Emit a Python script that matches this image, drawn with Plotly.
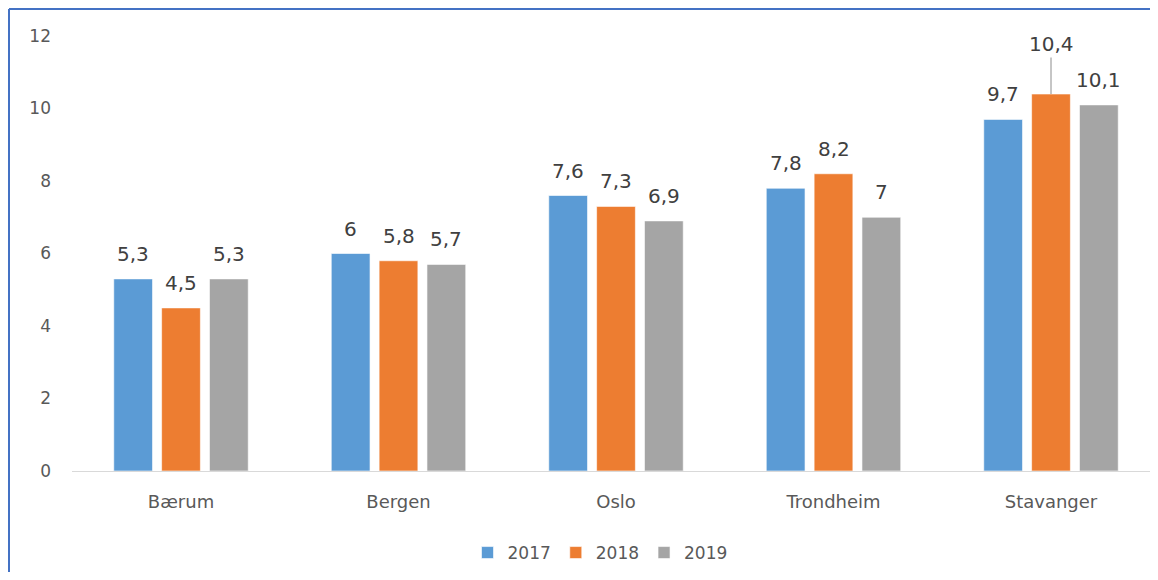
import plotly.graph_objects as go

categories = ["Bærum", "Bergen", "Oslo", "Trondheim", "Stavanger"]
years = ["2017", "2018", "2019"]
values_2017 = [5.3, 6.0, 7.6, 7.8, 9.7]
values_2018 = [4.5, 5.8, 7.3, 8.2, 10.4]
values_2019 = [5.3, 5.7, 6.9, 7.0, 10.1]
y_ticks = [0, 2, 4, 6, 8, 10, 12]

series = [values_2017, values_2018, values_2019]
colors = ["#5B9BD5", "#ED7D31", "#A5A5A5"]
callouts = {("Stavanger", "2018")}

# page is offset by the default 8px body margin
W, H = 1142, 564
ML, MR, MT, MB = 64, 0, 28, 101
plot_w = W - ML - MR
plot_h = H - MT - MB
cat_px = 217.5
x_start = -109.0 / cat_px
x_end = x_start + plot_w / cat_px
bargap = 0.34
groupgap = 0.19
slot_px = cat_px * (1 - bargap) / len(years)
FONT = "DejaVu Sans, sans-serif"

def fmt(v):
    return ("%g" % v).replace(".", ",")

fig = go.Figure()
for yr, vals, col in zip(years, series, colors):
    fig.add_trace(go.Bar(
        x=categories, y=vals, name=yr,
        marker=dict(color=col, line=dict(color="white", width=0.6)),
        hoverinfo="skip",
    ))

annotations = []
for i, (yr, vals) in enumerate(zip(years, series)):
    xshift = (i - (len(years) - 1) / 2) * slot_px
    for cat, v in zip(categories, vals):
        base = dict(x=cat, y=v, xref="x", yref="y", text=fmt(v), xshift=xshift,
                    font=dict(family=FONT, size=20, color="#404040"))
        if (cat, yr) in callouts:
            base.update(showarrow=True, arrowhead=0, arrowwidth=1,
                        arrowcolor="#8C8C8C", ax=0, ay=-50, standoff=0)
        else:
            base.update(showarrow=False, yanchor="bottom", yshift=11)
        annotations.append(base)

frame_x0 = (1 - ML) / plot_w
frame_y1 = (H - MB - 1) / plot_h
frame_style = dict(color="#4472C4", width=2)

fig.update_layout(
    width=W, height=H,
    margin=dict(l=ML, r=MR, t=MT, b=MB, pad=0),
    paper_bgcolor="white", plot_bgcolor="white",
    barmode="group", bargap=bargap, bargroupgap=groupgap,
    separators=", ",
    font=dict(family=FONT, size=17, color="#595959"),
    annotations=annotations,
    showlegend=True,
    legend=dict(
        orientation="h", x=(592 - ML) / plot_w, xanchor="center",
        y=-(545 - (H - MB)) / plot_h, yanchor="middle",
        font=dict(family=FONT, size=17, color="#595959"),
        itemwidth=30, tracegroupgap=0,
    ),
    shapes=[
        dict(type="line", xref="paper", yref="paper",
             x0=frame_x0, x1=1.0, y0=frame_y1, y1=frame_y1, line=frame_style),
        dict(type="line", xref="paper", yref="paper",
             x0=frame_x0, x1=frame_x0, y0=-0.3, y1=frame_y1, line=frame_style),
    ],
)
fig.update_xaxes(
    range=[x_start, x_end],
    showgrid=False, showline=True, linecolor="#D9D9D9", linewidth=1,
    ticks="", ticklabelstandoff=14, tickfont=dict(family=FONT, size=18, color="#595959"),
)
fig.update_yaxes(
    range=[0, 12], tickvals=y_ticks, ticktext=[str(t) for t in y_ticks],
    showgrid=False, showline=False, zeroline=False,
    ticks="", ticklabelstandoff=20, tickfont=dict(family=FONT, size=17, color="#595959"),
)

fig.write_html("out.html")
